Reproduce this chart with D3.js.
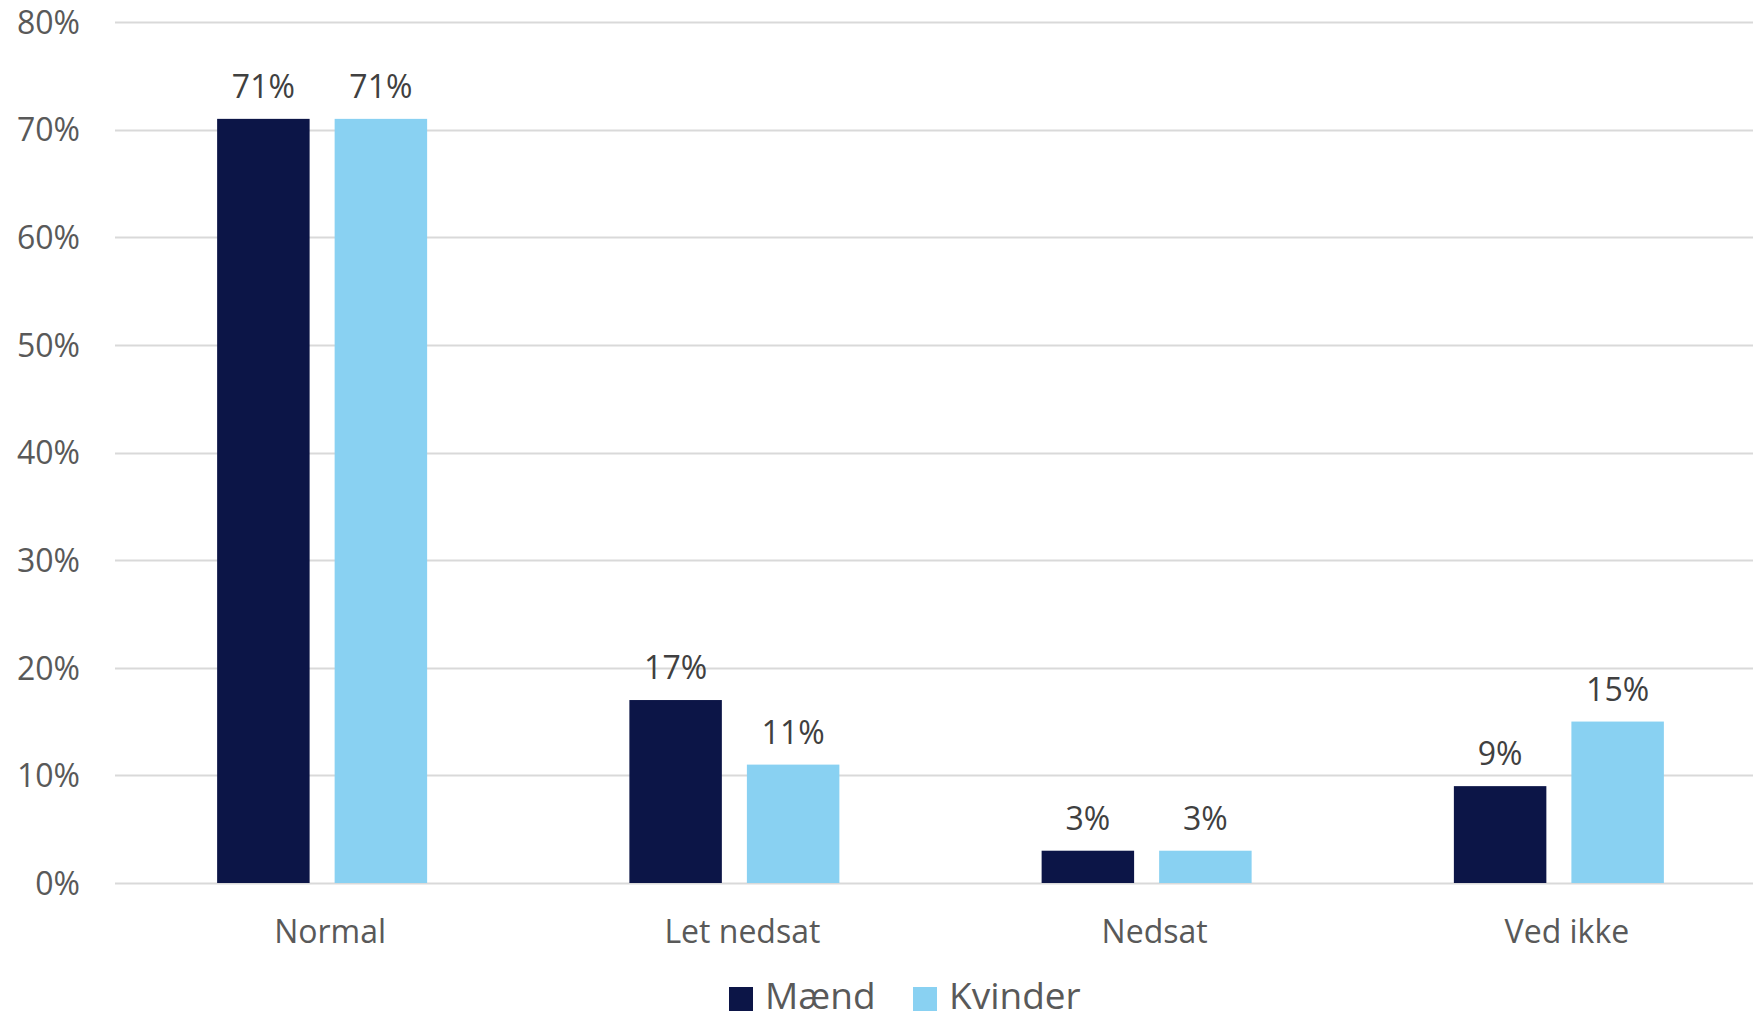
<!DOCTYPE html>
<html><head><meta charset="utf-8">
<script src="https://cdn.jsdelivr.net/npm/d3@7"></script>
<style>body{margin:0;background:#fff}svg{display:block}</style>
</head><body>
<script>
const categories = ["Normal", "Let nedsat", "Nedsat", "Ved ikke"];
const seriesNames = ["Mænd", "Kvinder"];
const maend = [0.71, 0.17, 0.03, 0.09];
const kvinder = [0.71, 0.11, 0.03, 0.15];
const yTicks = [0, 0.1, 0.2, 0.3, 0.4, 0.5, 0.6, 0.7, 0.8];
const colors = ["#0C1547", "#89D1F2"];

const W = 1753, H = 1020;
const svg = d3.select("body").append("svg").attr("width", W).attr("height", H);
const font = "'Open Sans', Lato, sans-serif";

const y = d3.scaleLinear().domain([0, 0.8]).range([883, 22]);
const x = d3.scaleBand().domain(categories).range([116, 1765]);
const xs = d3.scaleBand().domain(seriesNames).range([-105, 105]).paddingInner(0.213);

// grid
svg.append("g").selectAll("line").data(yTicks).join("line")
  .attr("x1", 115).attr("x2", W)
  .attr("y1", d => Math.round(y(d)) + 0.5).attr("y2", d => Math.round(y(d)) + 0.5)
  .attr("stroke", "#D9D9D9").attr("stroke-width", 2);

// y axis
const yAxis = d3.axisLeft(y).tickValues(yTicks).tickFormat(d3.format(".0%")).tickSize(0).tickPadding(0);
const ga = svg.append("g").attr("transform", "translate(80,1)").call(yAxis);
ga.select(".domain").remove();
ga.selectAll("text").attr("font-family", font).attr("font-size", 32).attr("fill", "#595959");

// x axis
const xAxis = d3.axisBottom(x).tickSize(0).tickPadding(0);
const gx = svg.append("g").attr("transform", "translate(8,943)").call(xAxis);
gx.select(".domain").remove();
gx.selectAll("text").attr("font-family", font).attr("font-size", 32).attr("fill", "#595959").attr("dy", 0).attr("y", 0);

const series = [maend, kvinder];
series.forEach((vals, si) => {
  const g = svg.append("g");
  g.selectAll("rect").data(categories).join("rect")
    .attr("x", c => x(c) + x.bandwidth() / 2 + xs(seriesNames[si]))
    .attr("width", xs.bandwidth())
    .attr("y", (c, i) => y(vals[i]))
    .attr("height", (c, i) => y(0) - y(vals[i]))
    .attr("fill", colors[si]);
  g.selectAll("text").data(categories).join("text")
    .attr("x", c => x(c) + x.bandwidth() / 2 + xs(seriesNames[si]) + xs.bandwidth() / 2)
    .attr("y", (c, i) => y(vals[i]) - 21)
    .attr("text-anchor", "middle")
    .attr("font-family", font).attr("font-size", 32).attr("fill", "#404040")
    .text((c, i) => d3.format(".0%")(vals[i]));
});

// legend
const legX = [729, 913];
const lg = svg.append("g");
seriesNames.forEach((n, i) => {
  lg.append("rect").attr("x", legX[i]).attr("y", 987).attr("width", 24).attr("height", 24).attr("fill", colors[i]);
  lg.append("text").attr("x", legX[i] + 36).attr("y", 1009)
    .attr("font-family", font).attr("font-size", 37).attr("fill", "#595959").text(n);
});
</script>
</body></html>
